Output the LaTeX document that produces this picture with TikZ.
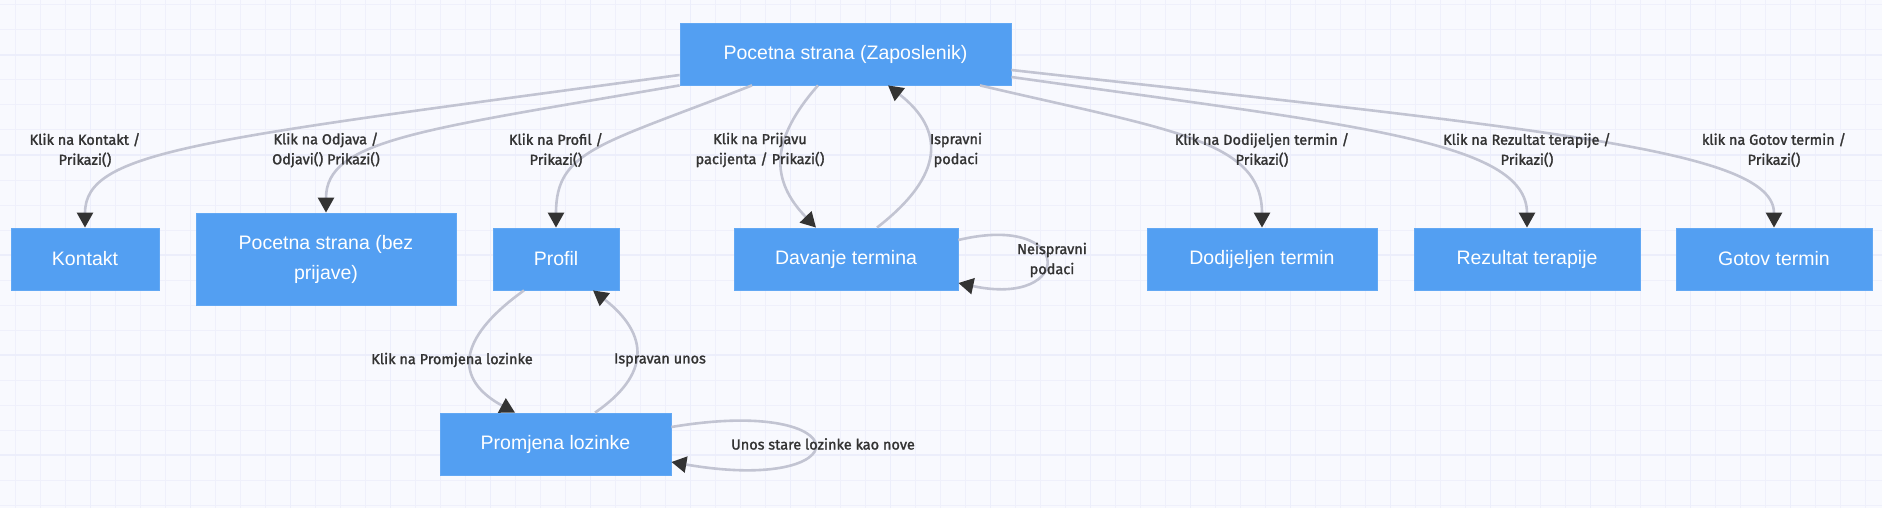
\documentclass[tikz,border=0pt]{standalone}
\usepackage{fontspec}
\setmainfont{Liberation Sans}
\newfontfamily\labfont[FakeBold=1.6]{Fira Sans}
\usetikzlibrary{arrows.meta,calc}
\definecolor{bg}{HTML}{F8F9FE}
\definecolor{gridthin}{HTML}{EFF0FB}
\definecolor{gridthick}{HTML}{ECEEFB}
\definecolor{nodefill}{HTML}{539FF2}
\definecolor{nodeborder}{HTML}{62A8F4}
\definecolor{edgec}{HTML}{C2C4D2}
\definecolor{arrowc}{HTML}{333333}
\definecolor{labc}{HTML}{333333}
\tikzset{
  state/.style={rectangle, fill=nodefill, draw=nodeborder, line width=0.8pt, text=white,
    font=\fontsize{19.5}{30}\selectfont, minimum height=62pt, inner sep=0pt, align=center},
  edge/.style={draw=edgec, line width=2.6pt, -{Triangle[length=15pt,width=16pt,color=arrowc]}},
  lab/.style={text=labc, font=\labfont\fontsize{14.5}{20}\selectfont, align=center, inner sep=0pt},
  gthin/.style={draw=gridthin, line width=1pt},
  gthick/.style={draw=gridthick, line width=1.6pt},
}
\begin{document}
\begin{tikzpicture}[x=1pt,y=-1pt]
\fill[bg] (0,0) rectangle (1882,508);
\useasboundingbox (0,0) rectangle (1882,508);
\foreach \i in {0,...,74} \draw[gthin] ({15.3+25*\i},0) -- ({15.3+25*\i},508);
\foreach \j in {0,...,20} \draw[gthin] (0,{5+25*\j}) -- (1882,{5+25*\j});
\foreach \i in {0,...,18} \draw[gthick] ({90.6+100*\i},0) -- ({90.6+100*\i},508);
\foreach \j in {0,...,4} \draw[gthick] (0,{55+100*\j}) -- (1882,{55+100*\j});

% nodes
\node[state, minimum width=331pt] (top) at (845.5,54) {Pocetna strana (Zaposlenik)};
\node[state, minimum width=148pt] (kontakt) at (85,259) {Kontakt};
\node[state, minimum width=260pt, minimum height=92pt] (bez) at (326,259) {Pocetna strana (bez\\prijave)};
\node[state, minimum width=126pt] (profil) at (556,259) {Profil};
\node[state, minimum width=224pt] (davanje) at (846,259) {Davanje termina};
\node[state, minimum width=230pt] (dodijeljen) at (1262,259) {Dodijeljen termin};
\node[state, minimum width=226pt] (rezultat) at (1527,259) {Rezultat terapije};
\node[state, minimum width=196pt] (gotov) at (1774,259) {Gotov termin};
\node[state, minimum width=231pt] (promjena) at (555.5,444) {Promjena lozinke};

% edges
\draw[edge] (top.west |- 0,75) .. controls (200,140) and (85,150) .. (kontakt.north);
\draw[edge] (top.south west) .. controls (420,130) and (326,140) .. (bez.north);
\draw[edge] (752,0 |- top.south) .. controls (600,145) and (556,150) .. (profil.north);
\draw[edge] (818,0 |- top.south) .. controls (770,140) and (770,180) .. (816,0 |- davanje.north);
\draw[edge] (877,0 |- davanje.north) .. controls (945,175) and (945,130) .. (888,0 |- top.south);
\draw[edge] (davanje.east |- 0,240) .. controls (1075,212) and (1075,308) .. (davanje.east |- 0,283);
\draw[edge] (524,0 |- profil.south) .. controls (455,340) and (455,380) .. (515,0 |- promjena.north);
\draw[edge] (595,0 |- promjena.north) .. controls (650,375) and (650,335) .. (593,0 |- profil.south);
\draw[edge] (promjena.east |- 0,427) .. controls (862,395) and (862,495) .. (promjena.east |- 0,462);
\draw[edge] (980,0 |- top.south) .. controls (1170,130) and (1262,140) .. (dodijeljen.north);
\draw[edge] (top.east |- 0,77) .. controls (1350,125) and (1527,140) .. (rezultat.north);
\draw[edge] (top.east |- 0,70) .. controls (1550,130) and (1774,150) .. (gotov.north);

% labels
\node[lab] (l1) at (85,150) {Klik na Kontakt /\\Prikazi()};
\node[lab] (l2) at (326,150) {Klik na Odjava /\\Odjavi() Prikazi()};
\node[lab] (l3) at (556,150) {Klik na Profil /\\Prikazi()};
\node[lab] (l4) at (760,150) {Klik na Prijavu\\pacijenta / Prikazi()};
\node[lab] (l5) at (956,150) {Ispravni\\podaci};
\node[lab] (l6) at (1052,260) {Neispravni\\podaci};
\node[lab] (l7) at (1262,150) {Klik na Dodijeljen termin /\\Prikazi()};
\node[lab] (l8) at (1527,150) {Klik na Rezultat terapije /\\Prikazi()};
\node[lab] (l9) at (1774,150) {klik na Gotov termin /\\Prikazi()};
\node[lab] (l10) at (452,360) {Klik na Promjena lozinke};
\node[lab] (l11) at (660,360) {Ispravan unos};
\node[lab] (l12) at (823,444) {Unos stare lozinke kao nove};
\end{tikzpicture}
\end{document}
